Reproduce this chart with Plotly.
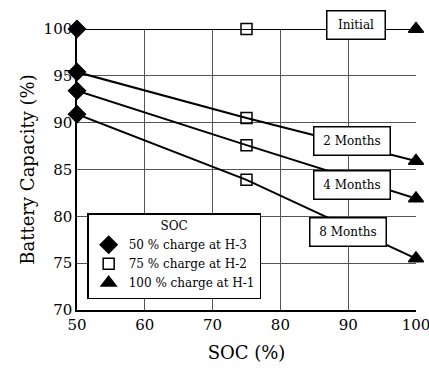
import plotly.graph_objects as go

# State of charge (x) and battery capacity (%) after each storage period
soc = [50, 75, 100]
cap_initial = [100.0, 100.0, 100.0]
cap_2m = [95.4, 90.5, 85.9]
cap_4m = [93.4, 87.6, 81.9]
cap_8m = [90.9, 83.9, 75.5]

period_names = ["Initial", "2 Months", "4 Months", "8 Months"]
period_caps = [cap_initial, cap_2m, cap_4m, cap_8m]
# label box centres (x, y) in data units
label_x = [91.1, 90.5, 90.5, 90.0]
label_y = [100.4, 88.0, 83.3, 78.3]

legend_names = ["50 % charge at H-3", "75 % charge at H-2", "100 % charge at H-1"]

FONT = "DejaVu Serif"

fig = go.Figure()

# connecting lines for each storage period
for caps in period_caps:
    fig.add_trace(go.Scatter(
        x=soc, y=caps, mode="lines", showlegend=False, hoverinfo="skip",
        line=dict(color="black", width=2), cliponaxis=False,
    ))

# markers grouped by charge level
symbols = ["diamond", "square-open", "triangle-up"]
sizes = [13, 11, 13]
for i, name in enumerate(legend_names):
    xs = [soc[i]] * len(period_caps)
    ys = [caps[i] for caps in period_caps]
    fig.add_trace(go.Scatter(
        x=xs, y=ys, mode="markers", name=name, cliponaxis=False,
        marker=dict(symbol=symbols[i], size=sizes[i], color="black",
                    line=dict(color="black", width=1.5)),
    ))

# boxed period labels sitting on the lines (placed in paper units so the
# top label may sit above the plotting area)
for name, lx, ly in zip(period_names, label_x, label_y):
    w = 55 if name == "Initial" else 73
    fig.add_annotation(
        x=lx, xref="x", y=(ly - 70) / 30, yref="paper", text=name, showarrow=False,
        xanchor="center", yanchor="middle",
        font=dict(family=FONT, size=12, color="black"),
        bgcolor="white", bordercolor="black", borderwidth=1.5,
        width=w, height=25, borderpad=1,
    )

fig.update_layout(
    width=429, height=372,
    margin=dict(l=77, r=13, t=29, b=59),
    paper_bgcolor="white", plot_bgcolor="white",
    font=dict(family=FONT, color="black"),
    legend=dict(
        title=dict(text="SOC", side="top center", font=dict(family=FONT, size=12)),
        font=dict(family=FONT, size=12, color="black"),
        x=0.03, y=0.345, xanchor="left", yanchor="top",
        bgcolor="white", bordercolor="black", borderwidth=1.5,
        tracegroupgap=0, itemwidth=30,
    ),
    xaxis=dict(
        range=[50, 100], dtick=10, tick0=50,
        showgrid=True, gridcolor="#555", gridwidth=1,
        showline=True, linecolor="black", linewidth=1.5,
        ticks="", tickfont=dict(family=FONT, size=15),
        ticklabeloverflow="allow", automargin="bottom",
        title=dict(text="SOC (%)", font=dict(family=FONT, size=18), standoff=14),
        zeroline=False,
    ),
    yaxis=dict(
        range=[70, 100], dtick=5, tick0=70,
        showgrid=True, gridcolor="#555", gridwidth=1,
        showline=True, linecolor="black", linewidth=1.5,
        ticks="", tickfont=dict(family=FONT, size=15),
        ticklabeloverflow="allow", automargin=False,
        title=dict(text="Battery Capacity (%)", font=dict(family=FONT, size=18), standoff=4),
        zeroline=False,
    ),
)

fig.write_html("out.html")
